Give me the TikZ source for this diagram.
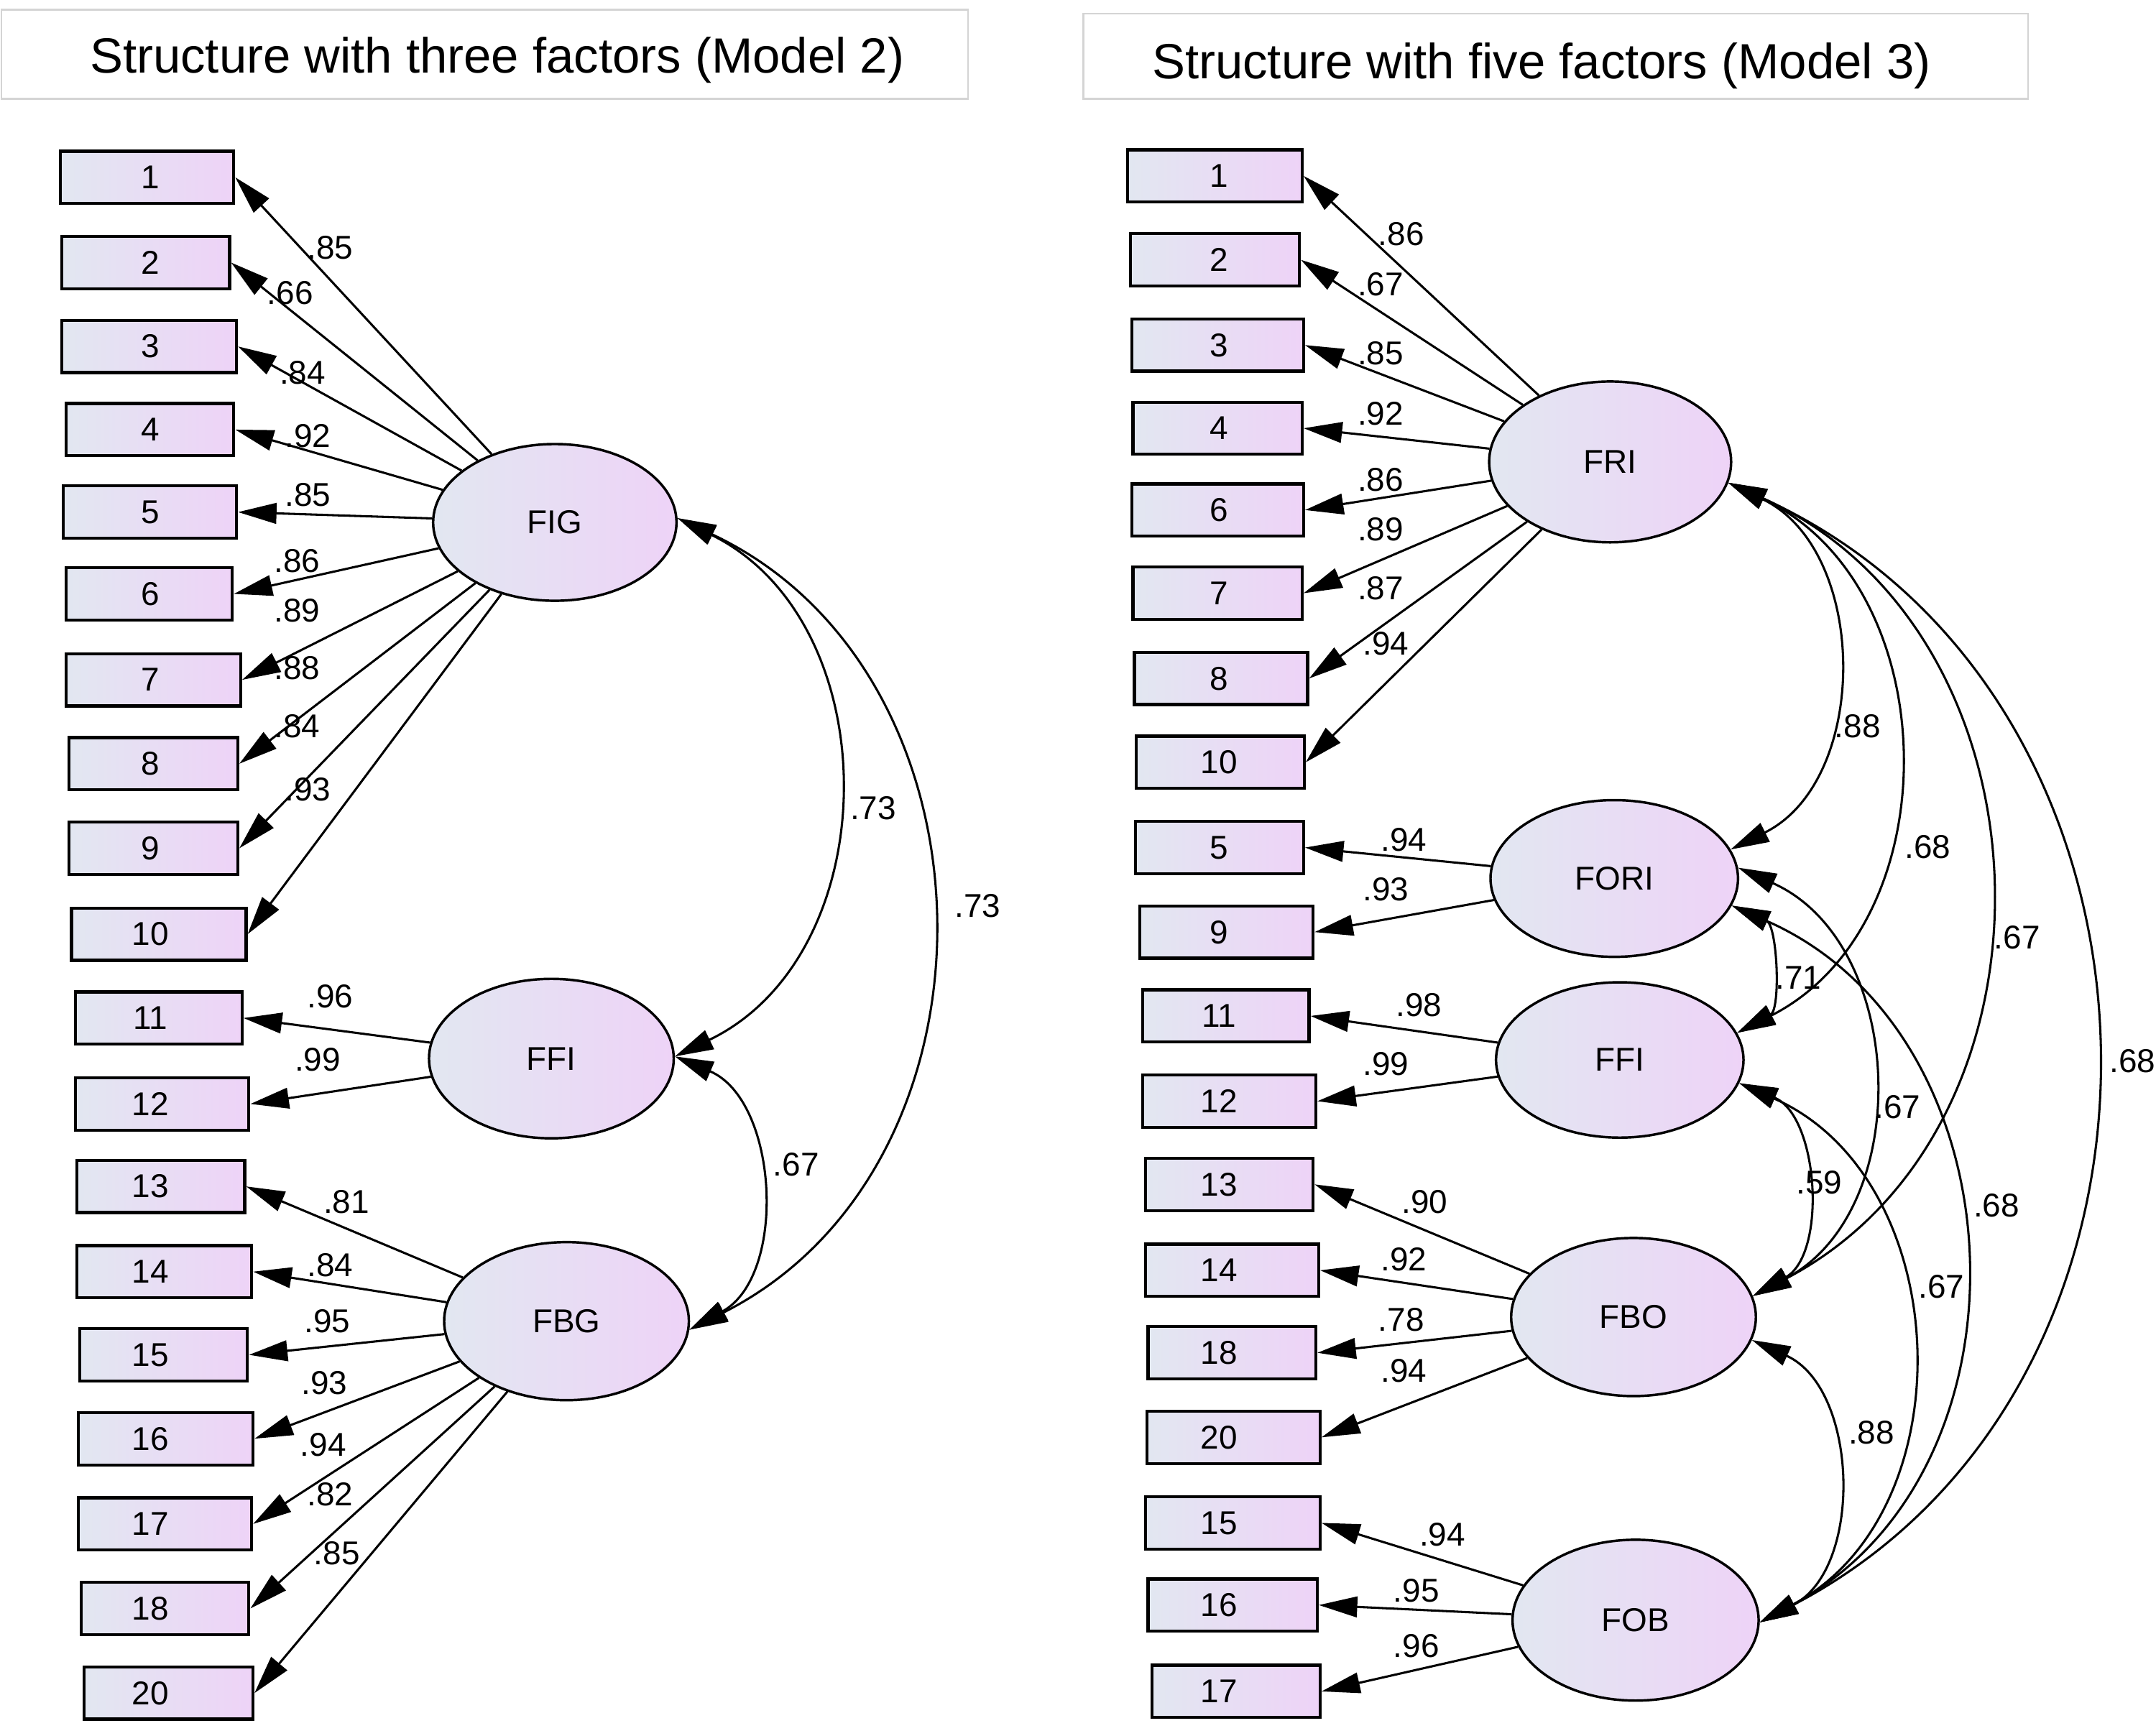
\documentclass[tikz,border=0pt]{standalone}
\usepackage{fontspec}
\setmainfont{Liberation Sans}
\usetikzlibrary{arrows.meta,shapes.geometric}
\definecolor{fillL}{RGB}{226,231,241}
\definecolor{fillR}{RGB}{238,211,247}
\definecolor{frameG}{RGB}{212,212,212}
\newcommand\sh[2]{\hspace*{-#1pt}#2\hspace*{#1pt}}
\tikzset{
  obs/.style={rectangle, draw=black, line width=2.2pt, left color=fillL, right color=fillR,
    minimum width=#1pt, minimum height=38pt, inner sep=0pt, font=\fontsize{24}{28}\selectfont},
  lat/.style={ellipse, draw=black, line width=1.8pt, left color=fillL, right color=fillR,
    inner sep=0pt, font=\fontsize{24}{28}\selectfont},
  load/.style={-{Triangle[length=28pt,width=15pt]}, line width=1.6pt},
  cov/.style={{Triangle[length=28pt,width=15pt]}-{Triangle[length=28pt,width=15pt]}, line width=1.6pt},
  arcb/.style={bend left=64, looseness=#1},
  coef/.style={font=\fontsize{24}{28}\selectfont, inner sep=0pt},
  ttl/.style={font=\fontsize{36}{40}\selectfont, anchor=base, inner sep=0pt},
  ttlbox/.style={draw=frameG, line width=1.4pt}
}
\begin{document}
\begin{tikzpicture}[x=1pt,y=1pt]
\useasboundingbox (0,0) rectangle (1568,-1262.25);
% titles
\draw[ttlbox] (1,-7) rectangle (704,-72);
\draw[ttlbox] (788,-10) rectangle (1475,-72);
\node[ttl] (t1) at (361.5,-53.3) {Structure with three factors (Model 2)};
\node[ttl] (t2) at (1121,-57) {Structure with five factors (Model 3)};

% ---------------- left panel ----------------
\node[obs=126] (L1)  at (107,-129)    {\sh{-2.5}{1}};
\node[obs=122] (L2)  at (106,-191)    {\sh{-3.5}{2}};
\node[obs=127] (L3)  at (108.5,-252)  {\sh{-1}{3}};
\node[obs=122] (L4)  at (109,-312.5)  {\sh{-0.5}{4}};
\node[obs=126] (L5)  at (109,-372.5)  {\sh{-0.5}{5}};
\node[obs=121] (L6)  at (108.5,-432)  {\sh{-1}{6}};
\node[obs=127] (L7)  at (111.5,-494.5){\sh{2}{7}};
\node[obs=123] (L8)  at (111.5,-555.5){\sh{2}{8}};
\node[obs=123] (L9)  at (111.5,-617)  {\sh{2}{9}};
\node[obs=127] (L10) at (115.5,-679.5){\sh{6}{10}};
\node[obs=121] (L11) at (115.5,-740.5){\sh{6}{11}};
\node[obs=126] (L12) at (118,-803)    {\sh{8.5}{12}};
\node[obs=122] (L13) at (117,-863)    {\sh{7.5}{13}};
\node[obs=127] (L14) at (119.5,-925)  {\sh{10}{14}};
\node[obs=122] (L15) at (119,-985.5)  {\sh{9.5}{15}};
\node[obs=127] (L16) at (120.5,-1046.5){\sh{11}{16}};
\node[obs=126] (L17) at (120,-1108.5) {\sh{10.5}{17}};
\node[obs=122] (L18) at (120,-1170)   {\sh{10.5}{18}};
\node[obs=123] (L20) at (122.5,-1231.5){\sh{13}{20}};

\node[lat, minimum width=177pt, minimum height=114pt] (FIG)  at (403.5,-380) {FIG};
\node[lat, minimum width=178pt, minimum height=116pt] (FFIa) at (401,-770)   {FFI};
\node[lat, minimum width=178pt, minimum height=115pt] (FBG)  at (412,-961)   {FBG};

\foreach \b in {1,...,10} \draw[load] (FIG) -- (L\b.east);
\foreach \b in {11,12} \draw[load] (FFIa) -- (L\b.east);
\foreach \b in {13,...,18,20} \draw[load] (FBG) -- (L\b.east);

\draw[cov] (FIG.2.6) to[arcb=1.12] (FFIa.1.2);
\draw[cov] (FIG.2.6) to[arcb=1.145] (FBG.-4.4);
\draw[cov] (FFIa.1.2) to[arcb=1.05] (FBG.-4.4);

\node[coef] (cL1)  at (240,-180)  {.85};
\node[coef] (cL2)  at (211,-213)  {.66};
\node[coef] (cL3)  at (220,-271)  {.84};
\node[coef] (cL4)  at (224,-317)  {.92};
\node[coef] (cL5)  at (224,-360)  {.85};
\node[coef] (cL6)  at (216,-408)  {.86};
\node[coef] (cL7)  at (216,-444)  {.89};
\node[coef] (cL8)  at (216,-486)  {.88};
\node[coef] (cL9)  at (216,-528)  {.84};
\node[coef] (cL10) at (224,-574)  {.93};
\node[coef] (cL11) at (240,-725)  {.96};
\node[coef] (cL12) at (231,-771)  {.99};
\node[coef] (cL13) at (252,-874)  {.81};
\node[coef] (cL14) at (240,-920)  {.84};
\node[coef] (cL15) at (238,-961)  {.95};
\node[coef] (cL16) at (236,-1006) {.93};
\node[coef] (cL17) at (235,-1051) {.94};
\node[coef] (cL18) at (240,-1087) {.82};
\node[coef] (cL20) at (245,-1130) {.85};
\node[coef] (kL1) at (635,-588) {.73};
\node[coef] (kL2) at (711,-659) {.73};
\node[coef] (kL3) at (579,-847) {.67};

% ---------------- right panel ----------------
\node[obs=127] (R1)  at (883.5,-128)   {\sh{-3}{1}};
\node[obs=123] (R2)  at (883.5,-189)   {\sh{-3}{2}};
\node[obs=125] (R3)  at (885.5,-251)   {\sh{-1}{3}};
\node[obs=123] (R4)  at (885.5,-311.5) {\sh{-1}{4}};
\node[obs=125] (R6)  at (885.5,-371)   {\sh{-1}{6}};
\node[obs=123] (R7)  at (885.5,-431.5) {\sh{-1}{7}};
\node[obs=126] (R8)  at (888,-493.5)   {\sh{1.5}{8}};
\node[obs=122] (R10) at (887.5,-554.5) {\sh{1}{10}};
\node[obs=122] (R5)  at (887,-616.5)   {\sh{0.5}{5}};
\node[obs=126] (R9)  at (892,-678)     {\sh{5.5}{9}};
\node[obs=121] (R11) at (891.5,-739)   {\sh{5}{11}};
\node[obs=126] (R12) at (894,-801)     {\sh{7.5}{12}};
\node[obs=122] (R13) at (894,-861.5)   {\sh{7.5}{13}};
\node[obs=126] (R14) at (896,-924)     {\sh{9.5}{14}};
\node[obs=122] (R18) at (896,-984)     {\sh{9.5}{18}};
\node[obs=126] (R20) at (897,-1045.5)  {\sh{10.5}{20}};
\node[obs=127] (R15) at (896.5,-1107.75){\sh{10}{15}};
\node[obs=123] (R16) at (896.5,-1167.5){\sh{10}{16}};
\node[obs=122] (R17) at (899,-1230.3)  {\sh{12.5}{17}};

\node[lat, minimum width=176pt, minimum height=117pt] (FRI)  at (1171,-336)   {FRI};
\node[lat, minimum width=180pt, minimum height=114pt] (FORI) at (1174,-639)   {FORI};
\node[lat, minimum width=180pt, minimum height=113pt] (FFIb) at (1178,-771)   {FFI};
\node[lat, minimum width=178pt, minimum height=115pt] (FBO)  at (1188,-958)   {FBO};
\node[lat, minimum width=179pt, minimum height=117pt] (FOB)  at (1189.5,-1178.5) {FOB};

\foreach \b in {1,2,3,4,6,7,8,10} \draw[load] (FRI) -- (R\b.east);
\foreach \b in {5,9} \draw[load] (FORI) -- (R\b.east);
\foreach \b in {11,12} \draw[load] (FFIb) -- (R\b.east);
\foreach \b in {13,14,18,20} \draw[load] (FBO) -- (R\b.east);
\foreach \b in {15,16,17} \draw[load] (FOB) -- (R\b.east);

\draw[cov] (FRI.-10.5) to[arcb=1.087] (FORI.14.5);
\draw[cov] (FRI.-10.5) to[arcb=1.12] (FFIb.13);
\draw[cov] (FRI.-10.5) to[arcb=1.145] (FBO.10.8);
\draw[cov] (FRI.-10.5) to[arcb=1.158] (FOB.-1.6);
\draw[cov] (FORI.-13) to[arcb=1.0] (FFIb.13);
\draw[cov] (FORI.5.7) to[arcb=1.10] (FBO.10.8);
\draw[cov] (FORI.-13) to[arcb=1.14] (FOB.-1.6);
\draw[cov] (FFIb.-11.2) to[arcb=1.03] (FBO.10.8);
\draw[cov] (FFIb.-11.2) to[arcb=1.12] (FOB.-1.6);
\draw[cov] (FBO.-11) to[arcb=1.06] (FOB.-1.6);

\node[coef] (cR1)  at (1019,-170)  {.86};
\node[coef] (cR2)  at (1004,-207)  {.67};
\node[coef] (cR3)  at (1004,-257)  {.85};
\node[coef] (cR4)  at (1004,-301)  {.92};
\node[coef] (cR6)  at (1004,-349)  {.86};
\node[coef] (cR7)  at (1004,-385)  {.89};
\node[coef] (cR8)  at (1004,-428)  {.87};
\node[coef] (cR10) at (1008,-468)  {.94};
\node[coef] (cR5)  at (1021,-611)  {.94};
\node[coef] (cR9)  at (1008,-647)  {.93};
\node[coef] (cR11) at (1032,-731)  {.98};
\node[coef] (cR12) at (1008,-774)  {.99};
\node[coef] (cR13) at (1036,-874)  {.90};
\node[coef] (cR14) at (1021,-916)  {.92};
\node[coef] (cR18) at (1019,-960)  {.78};
\node[coef] (cR20) at (1021,-997)  {.94};
\node[coef] (cR15) at (1049,-1116) {.94};
\node[coef] (cR16) at (1030,-1157) {.95};
\node[coef] (cR17) at (1030,-1197) {.96};

\node[coef] (kR1)  at (1351,-528)  {.88};
\node[coef] (kR2)  at (1402,-616)  {.68};
\node[coef] (kR3)  at (1467,-682)  {.67};
\node[coef] (kR4)  at (1551,-772)  {.68};
\node[coef] (kR5)  at (1308,-711)  {.71};
\node[coef] (kR6)  at (1380,-805)  {.67};
\node[coef] (kR7)  at (1452,-877)  {.68};
\node[coef] (kR8)  at (1323,-860)  {.59};
\node[coef] (kR9)  at (1412,-936)  {.67};
\node[coef] (kR10) at (1361,-1042) {.88};
\end{tikzpicture}
\end{document}
